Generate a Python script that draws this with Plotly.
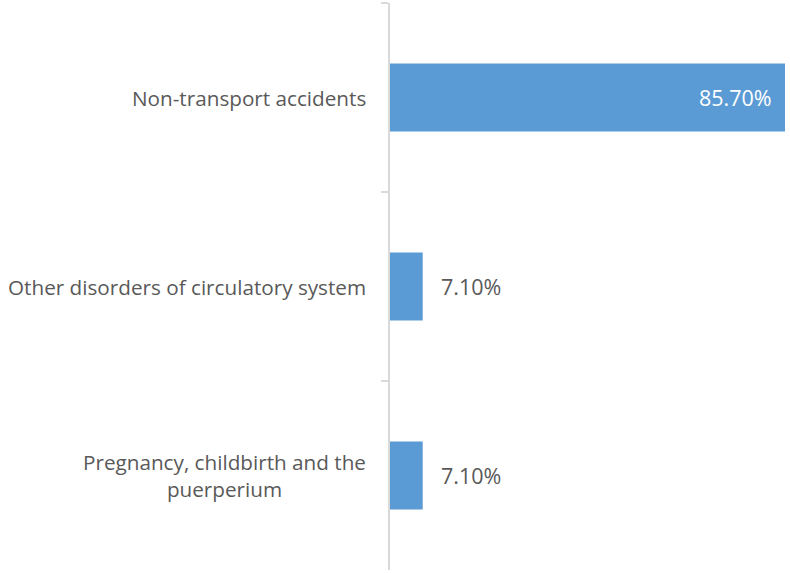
import plotly.graph_objects as go

categories = ["Non-transport accidents", "Other disorders of circulatory system", "Pregnancy, childbirth and the puerperium"]
display_labels = ["Non-transport accidents", "Other disorders of circulatory system", "Pregnancy, childbirth and the<br>puerperium"]
values = [85.70, 7.10, 7.10]
value_text = ["85.70%", "7.10%", "7.10%"]

FONT = "Open Sans"
GREY = "#595959"

fig = go.Figure(go.Bar(
    y=categories, x=values, orientation="h",
    marker=dict(color="#5b9bd5", line=dict(width=0)),
    hoverinfo="skip",
))

ann = []
for cat, lab in zip(categories, display_labels):
    ann.append(dict(x=0, xref="paper", y=cat, yref="y", text=lab, showarrow=False,
                    xanchor="right", yanchor="middle", xshift=-22, align="center",
                    font=dict(family=FONT, size=20.7, color=GREY)))
for i, (cat, v, t) in enumerate(zip(categories, values, value_text)):
    if v > 50:
        ann.append(dict(x=v, y=cat, xref="x", yref="y", text=t, showarrow=False,
                        xanchor="right", xshift=-11, yanchor="middle",
                        font=dict(family=FONT, size=21.5, color="white")))
    else:
        ann.append(dict(x=v, y=cat, xref="x", yref="y", text=t, showarrow=False,
                        xanchor="left", xshift=16, yanchor="middle",
                        font=dict(family=FONT, size=21.5, color=GREY)))

fig.update_layout(
    width=790, height=573,
    margin=dict(l=390, r=5, t=3, b=3),
    paper_bgcolor="white", plot_bgcolor="white",
    bargap=0.64,
    showlegend=False,
    annotations=ann,
    xaxis=dict(range=[0, 85.7], visible=False, showgrid=False, zeroline=False),
    yaxis=dict(type="category", categoryorder="array", categoryarray=categories,
               autorange="reversed", showticklabels=False, showgrid=False, zeroline=False,
               showline=True, linecolor="#d9d9d9", linewidth=1.5,
               ticks="outside", tickson="boundaries", ticklen=7, tickcolor="#d9d9d9", tickwidth=1.5),
)

fig.write_html("out.html", config={"displayModeBar": False},
               post_script="document.body.style.margin='0px';document.body.style.overflow='hidden';")
